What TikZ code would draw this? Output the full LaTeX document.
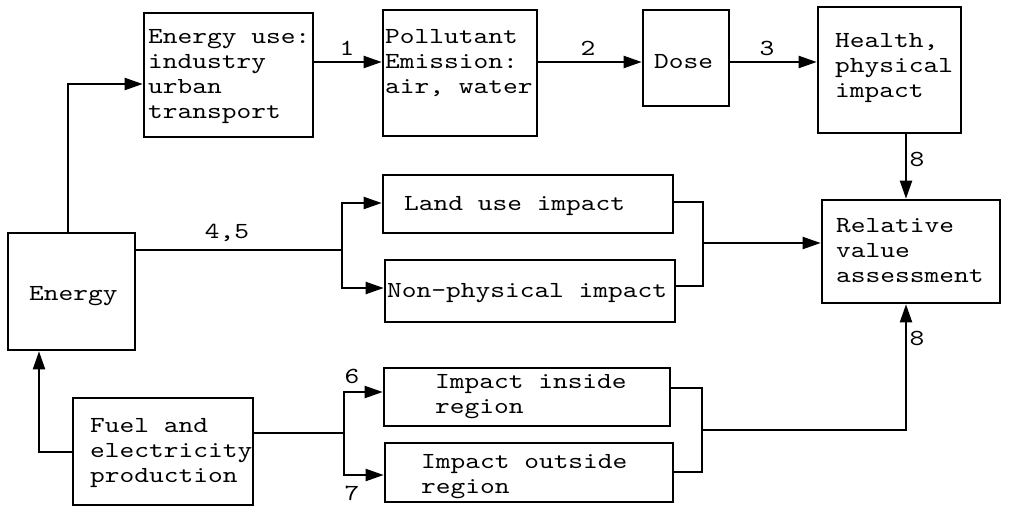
\documentclass[tikz,border=0pt]{standalone}
\usepackage{fontspec}
\setmonofont{lmmono10-regular.otf}[FakeStretch=1.22]
\usetikzlibrary{arrows.meta}
\newcommand\mlines[1]{\begin{tabular}[t]{@{}l@{}}#1\end{tabular}}
\tikzset{
  box/.style={draw, line width=2.6pt, rectangle, inner sep=0pt},
  txt/.style={anchor=base west, inner sep=0pt, font=\ttfamily\fontsize{23}{25}\selectfont},
  lbl/.style={inner sep=0pt, font=\ttfamily\fontsize{23}{25}\selectfont},
  con/.style={line width=2.1pt},
  arr/.style={con, -{Triangle[length=18pt,width=12pt]}},
}
\begin{document}
\begin{tikzpicture}[x=1pt,y=-1pt]
\useasboundingbox (0,0) rectangle (1010,507);
% boxes
\node[box, minimum width=169pt, minimum height=124pt] (eu) at (228.5,75) {};
\node[box, minimum width=154pt, minimum height=126pt] (pe) at (460,73) {};
\node[box, minimum width=86pt, minimum height=96pt] (dose) at (686,58) {};
\node[box, minimum width=143pt, minimum height=126pt] (hl) at (889.5,70) {};
\node[box, minimum width=178pt, minimum height=103pt] (rv) at (911,251.5) {};
\node[box, minimum width=290pt, minimum height=58pt] (lu) at (528,204) {};
\node[box, minimum width=290pt, minimum height=62pt] (np) at (530,291) {};
\node[box, minimum width=127pt, minimum height=117pt] (en) at (71.5,291.5) {};
\node[box, minimum width=180pt, minimum height=107pt] (fu) at (163,451.5) {};
\node[box, minimum width=286pt, minimum height=58pt] (ii) at (527,397) {};
\node[box, minimum width=288pt, minimum height=59pt] (io) at (529,472.5) {};
% texts
\node[txt] (eut) at (148,43) {\mlines{Energy use:\\industry\\urban\\transport}};
\node[txt] (pet) at (385,43) {\mlines{Pollutant\\Emission:\\air, water}};
\node[txt] (doset) at (654,68) {Dose};
\node[txt] (hlt) at (835,47) {\mlines{Health,\\physical\\impact}};
\node[txt] (rvt) at (836,232) {\mlines{Relative\\value\\assessment}};
\node[txt] (lut) at (404,210) {Land use impact};
\node[txt] (npt) at (387,297) {Non-physical impact};
\node[txt] (iit) at (435,388) {\mlines{Impact inside\\region}};
\node[txt] (iot) at (421,468) {\mlines{Impact outside\\region}};
\node[txt] (ent) at (29,300) {Energy};
\node[txt] (fut) at (90,432) {\mlines{Fuel and\\electricity\\production}};
% helper coordinates
\coordinate (r1) at (0,62);
\coordinate (c8) at (906,0);
\coordinate (cA) at (68,84);
\coordinate (j1) at (342,250);
\coordinate (a4) at (0,203);
\coordinate (a5) at (0,288);
\coordinate (e1) at (0,202);
\coordinate (e2) at (0,286);
\coordinate (j2) at (703,243);
\coordinate (cB) at (39,452);
\coordinate (j3) at (344,433);
\coordinate (a6) at (0,392);
\coordinate (a7) at (0,475);
\coordinate (e3) at (0,388);
\coordinate (e4) at (0,472);
\coordinate (j4) at (702,430);
% connectors
\draw[arr] (eu.east|-r1) -- (pe.west|-r1);
\draw[arr] (pe.east|-r1) -- (dose.west|-r1);
\draw[arr] (dose.east|-r1) -- (hl.west|-r1);
\draw[arr] (hl.south-|c8) -- (rv.north-|c8);
\draw[arr] (en.north-|cA) |- (eu.west|-cA);
\draw[con] (en.east|-j1) -- (j1);
\draw[arr] (j1) |- (lu.west|-a4);
\draw[arr] (j1) |- (np.west|-a5);
\draw[con] (lu.east|-e1) -| (j2) |- (np.east|-e2);
\draw[arr] (j2) -- (rv.west|-j2);
\draw[arr] (fu.west|-cB) -| (en.south-|cB);
\draw[con] (fu.east|-j3) -- (j3);
\draw[arr] (j3) |- (ii.west|-a6);
\draw[arr] (j3) |- (io.west|-a7);
\draw[con] (ii.east|-e3) -| (j4) |- (io.east|-e4);
\draw[arr] (j4) -| (rv.south-|c8);
% labels
\node[lbl] (l1) at (347,48) {1};
\node[lbl] (l2) at (588,48) {2};
\node[lbl] (l3) at (767,48) {3};
\node[lbl] (l8a) at (917,159) {8};
\node[lbl] (l8b) at (917,338) {8};
\node[lbl] (l45) at (227,233) {4,5};
\node[lbl] (l6) at (352,376) {6};
\node[lbl] (l7) at (352,493) {7};
\end{tikzpicture}
\end{document}
